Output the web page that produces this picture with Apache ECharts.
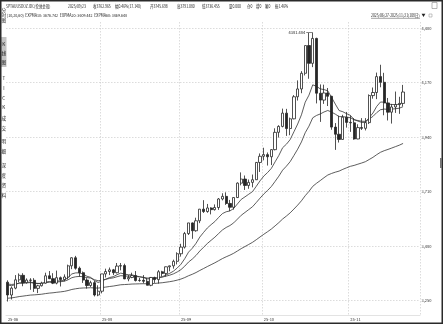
<!DOCTYPE html>
<html><head><meta charset="utf-8">
<script src="https://cdn.jsdelivr.net/npm/echarts@6/dist/echarts.min.js"></script>
<style>html,body{margin:0;padding:0;background:#fff;overflow:hidden}#c{width:443px;height:324px}</style>
</head><body><div id="c"></div><script>
// ---- data ----
const dates = [
'2025-06-27','2025-06-30',
'2025-07-01','2025-07-02','2025-07-03','2025-07-04','2025-07-07','2025-07-08','2025-07-09','2025-07-10','2025-07-11','2025-07-14','2025-07-15','2025-07-16','2025-07-17','2025-07-18','2025-07-21','2025-07-22','2025-07-23','2025-07-24','2025-07-25','2025-07-28','2025-07-29','2025-07-30','2025-07-31',
'2025-08-01','2025-08-04','2025-08-05','2025-08-06','2025-08-07','2025-08-08','2025-08-11','2025-08-12','2025-08-13','2025-08-14','2025-08-15','2025-08-18','2025-08-19','2025-08-20','2025-08-21','2025-08-22','2025-08-25','2025-08-26','2025-08-27','2025-08-28','2025-08-29',
'2025-09-01','2025-09-02','2025-09-03','2025-09-04','2025-09-05','2025-09-08','2025-09-09','2025-09-10','2025-09-11','2025-09-12','2025-09-15','2025-09-16','2025-09-17','2025-09-18','2025-09-19','2025-09-22','2025-09-23','2025-09-24','2025-09-25','2025-09-26','2025-09-29','2025-09-30',
'2025-10-01','2025-10-02','2025-10-03','2025-10-06','2025-10-07','2025-10-08','2025-10-09','2025-10-10','2025-10-13','2025-10-14','2025-10-15','2025-10-16','2025-10-17','2025-10-20','2025-10-21','2025-10-22','2025-10-23','2025-10-24','2025-10-27','2025-10-28','2025-10-29','2025-10-30','2025-10-31',
'2025-11-03','2025-11-04','2025-11-05','2025-11-06','2025-11-07','2025-11-10','2025-11-11','2025-11-12','2025-11-13','2025-11-14','2025-11-17','2025-11-18','2025-11-19','2025-11-20','2025-11-21'];
const opens = [3328,3274,
3303,3338,3357,3326,3337,3336,3302,3313,3324,3355,3343,3324,3347,3339,3350,3397,3431,3387,3368,3337,3314,3326,3274,
3290,3363,3373,3380,3368,3396,3398,3342,3348,3356,3335,3336,3332,3315,3348,3339,3372,3365,3393,3397,3416,
3448,3476,3533,3578,3545,3587,3636,3626,3641,3634,3643,3679,3690,3660,3644,3685,3745.698,3763,3736,3749,3760,3833,
3859,3866,3857,3887,3960,3985,4041,3976,4017,4110,4143,4209,4326,4251,4356,4125,4096,4126,4112,3982,3952,3930,4024,
4002,4000,3932,3980,3977,4001,4115,4128,4195,4171,4084,4045,4067,4077,4082];
const closes = [3274,3303,
3338,3357,3326,3337,3336,3302,3313,3324,3355,3343,3324,3347,3339,3350,3397,3431,3387,3368,3337,3314,3326,3274,3290,
3363,3373,3380,3368,3396,3398,3342,3348,3356,3335,3336,3332,3315,3348,3339,3372,3365,3393,3397,3416,3448,
3476,3533,3578,3545,3587,3636,3626,3641,3634,3643,3679,3690,3660,3644,3685,3745.825,3762.965,3736,3749,3760,3833,3859,
3866,3857,3887,3960,3985,4041,3976,4017,4110,4143,4209,4326,4251,4356,4125,4096,4126,4112,3982,3952,3930,4024,4002,
4000,3932,3980,3977,4001,4115,4128,4195,4171,4084,4045,4067,4077,4082,4130];
const highs = [3336,3310,
3358,3365,3366,3344,3345,3345,3317,3330,3368,3375,3366,3377,3352,3361,3402,3433,3439,3394,3373,3345,3334,3334,3315,
3363,3385,3390,3384,3409,3409,3406,3358,3368,3375,3346,3358,3345,3350,3351,3379,3376,3394,3398,3423,3454,
3490,3540,3578,3580,3600,3637,3674,3658,3644,3656,3683,3703,3707,3675,3686,3749,3791.08,3778,3761,3782,3835,3871,
3895,3875,3889,3977,3990,4060,4059,4022,4117,4179,4218,4326,4379,4381.484,4359,4162,4161,4147,4114,3999,4030,4034,4046,
4031,4020,3994,4020,4020,4120,4149,4212,4245,4211,4105,4080,4132,4110,4160];
const lows = [3246.55,3255,
3298,3328,3311,3322,3296,3287,3282,3310,3322,3341,3320,3319,3310,3332,3340,3383,3381,3351,3325,3301,3308,3268,3269,
3281,3348,3358,3358,3365,3378,3341,3332,3345,3331,3330,3323,3315,3311,3325,3322,3352,3352,3374,3385,3403,
3436,3470,3527,3511,3541,3577,3620,3621,3614,3630,3633,3673,3654,3628,3634,3683,3736.455,3717,3722,3728,3759,3793,
3842,3820,3822,3884,3938,3981,3945,3948,4015,4094,4125,4200,4186,4235,4082,4004,4080,4071,3971,3886,3917,3929,3980,
3962,3929,3931,3970,3968,3995,4102,4100,4150,4032,4010,3997,4042,4038,4070];
const yTicks = [3250,3480,3710,3940,4170,4400];
const emaPeriods = [10,20,60];
const emaStart = {10:3325, 20:3325};
const headerDate = '2025-09-23';
const expma60AtHeader = 3469.648;
const titleLine1 = [
 ['SPTAUUSDOZ.IDC(伦敦金现)',6],['2025/09/23',68],['收3762.965',93],['幅0.46%(17.140)',115],
 ['开3745.698',150],['高3791.080',177],['低3736.455',202],['量0.000',229],['仓0',247],['增0',256],['笔0',265],['振1.46%',275]];
const titleLine2 = '(10,20,60)  EXPMA10: 3676.742  EXPMA20: 3609.442  EXPMA60: 3469.648';
const titleLine2Span = [7, 127];
const rangeText = '2025/06/27-2025/11/21(108日)';
const sideTabs = [['分',10],['时',15],['图',20],['K',44],['线',53],['图',62],['T',78],['I',88],['C',98],['K',107],['成',118],['交',128],['明',141],['细',151],['深',165],['度',175],['资',185],['料',195]];

// ---- build ----
function ema(period, seed){
  const a = 2/(period+1); let e = seed;
  return closes.map(c => { e = a*c + (1-a)*e; return +e.toFixed(3); });
}
const hIdx = dates.indexOf(headerDate);
const a60 = 2/61;
const k60 = ema(60, 0)[hIdx];
const seed60 = (expma60AtHeader - k60) / Math.pow(1-a60, hIdx+1);
const emaData = {10: ema(10, emaStart[10]), 20: ema(20, emaStart[20]), 60: ema(60, seed60)};

const padCats = 4;
const cats = dates.concat(Array(padCats).fill(''));
const labelIdx = new Set(); const gridIdx = new Set();
let lastLab = -100;
dates.forEach((d,i)=>{
  if (i===0 || d.slice(5,7)!==dates[i-1].slice(5,7)) {
    if (i - lastLab >= 10) { labelIdx.add(i); lastLab = i; if (i>0) gridIdx.add(i); }
  }
});
const candleData = dates.map((d,i)=>[opens[i],closes[i],lows[i],highs[i]]);
const FONT = '"Noto Sans CJK SC","Liberation Sans",sans-serif';
const TXT = '#1a1a1a';

const mctx = document.createElement('canvas').getContext('2d');
function fitScale(text, size, width){ mctx.font = size+'px '+FONT; return width / mctx.measureText(text).width; }

const graphic = [];
titleLine1.forEach(([t,x])=>graphic.push({type:'text',x:x,y:6.5,scaleX:0.78,style:{text:t,fill:TXT,fontSize:4.4,fontFamily:FONT,verticalAlign:'middle'}}));
graphic.push({type:'text',x:titleLine2Span[0],y:15.5,scaleX:fitScale(titleLine2,4.2,titleLine2Span[1]-titleLine2Span[0]),
  style:{text:titleLine2,fill:TXT,fontSize:4.2,fontFamily:FONT,verticalAlign:'middle'}});
graphic.push({type:'rect',shape:{x:1,y:37,width:5.5,height:30},style:{fill:'#c4c4c4'}});
sideTabs.forEach(([t,y])=>graphic.push({type:'text',x:3.8,y:y,style:{text:t,fill:TXT,fontSize:4.6,fontFamily:FONT,align:'center',verticalAlign:'middle'}}));
graphic.push({type:'text',x:371,y:15.5,scaleX:0.82,style:{text:rangeText,fill:TXT,fontSize:4.2,fontFamily:FONT,verticalAlign:'middle'}});
graphic.push({type:'line',shape:{x1:371,y1:18.3,x2:420,y2:18.3},style:{stroke:'#444',lineWidth:0.5}});
graphic.push({type:'text',x:423.5,y:15.5,style:{text:'▼',fill:'#222',fontSize:4,fontFamily:FONT,align:'center',verticalAlign:'middle'}});
graphic.push({type:'rect',shape:{x:429,y:14,width:3,height:3},style:{fill:'none',stroke:'#888',lineWidth:0.5}});
graphic.push({type:'rect',shape:{x:432,y:2.5,width:5,height:6},style:{fill:'none',stroke:'#888',lineWidth:0.6}});
graphic.push({type:'rect',shape:{x:0.75,y:0.75,width:441.5,height:322.5},style:{fill:'none',stroke:'#2a2a2a',lineWidth:1.5}});
graphic.push({type:'rect',shape:{x:440,y:158,width:2,height:10},style:{fill:'#777'}});

const chart = echarts.init(document.getElementById('c'), null, {renderer:'canvas'});
const lineSeries = emaPeriods.map((p,k)=>({
  name:'EXPMA'+p, type:'line', xAxisIndex:0, yAxisIndex:0, data: emaData[p],
  showSymbol:false, symbol:'none', smooth:false, silent:true, z:1,
  lineStyle:{color:'#333', width:0.8}
}));
chart.setOption({
  animation:false,
  backgroundColor:'#fff',
  textStyle:{fontFamily:FONT},
  grid:[{left:6,right:23,top:28,bottom:23.3},{left:6,right:23,top:22,bottom:9}],
  xAxis:[
    {type:'category',gridIndex:0,data:cats,boundaryGap:true,axisLine:{show:false},axisTick:{show:false},axisLabel:{show:false},splitLine:{show:false}},
    {type:'category',gridIndex:1,data:cats,boundaryGap:true,
     axisLine:{show:true,lineStyle:{color:'#dcdcdc',width:0.8}},axisTick:{show:false},
     axisLabel:{show:true,interval:(i)=>labelIdx.has(i),formatter:(v)=>v?v.slice(2,7):'',fontSize:4,color:'#333',align:'left',margin:2.5},
     splitLine:{show:true,interval:(i)=>gridIdx.has(i),lineStyle:{type:[1.5,1.5],color:'#c4c4c4',width:0.6}}}
  ],
  yAxis:[
    {type:'value',gridIndex:0,position:'right',min:yTicks[0],max:yTicks[yTicks.length-1],interval:yTicks[1]-yTicks[0],
     axisLine:{show:false},axisTick:{show:false},
     axisLabel:{fontSize:4,color:'#333',margin:1.5},
     splitLine:{show:true,lineStyle:{type:[1.5,1.5],color:'#c4c4c4',width:0.6}}},
    {type:'value',gridIndex:1,show:false,min:0,max:1,splitLine:{show:false}}
  ],
  graphic: graphic,
  series:[
    {type:'candlestick',name:'K',xAxisIndex:0,yAxisIndex:0,data:candleData,clip:false,barWidth:2.7,z:3,
     itemStyle:{color:'#ffffff',color0:'#262626',borderColor:'#262626',borderColor0:'#262626',borderWidth:0.8},
     markPoint:{
       silent:true, animation:false,
       data:[
        {type:'max',valueDim:'highest',symbol:'path://M0,0L10,0L10,1L0,1Z',symbolSize:[6,0.6],symbolOffset:[-3.5,0],
         itemStyle:{color:'#333'},
         label:{show:true,position:'left',distance:1,formatter:(p)=>Number(p.value).toFixed(3),fontSize:4,color:'#222'}},
        {type:'min',valueDim:'lowest',symbol:'path://M0,0L1,0L1,9L10,9L10,10L0,10Z',symbolSize:[6,4],symbolOffset:[3,2],
         itemStyle:{color:'#333'},
         label:{show:true,position:'right',distance:1,offset:[0,2],formatter:(p)=>Number(p.value).toFixed(3),fontSize:4,color:'#222'}}
       ]
     }
    }
  ].concat(lineSeries)
});
</script></body></html>
